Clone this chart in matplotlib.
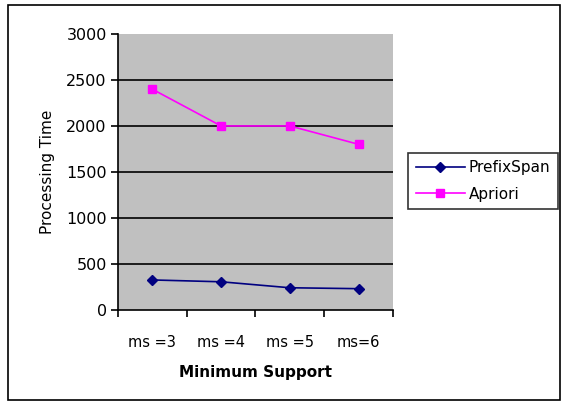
import matplotlib
matplotlib.use("Agg")
import matplotlib.pyplot as plt
from matplotlib.patches import Rectangle

categories = ["ms =3", "ms =4", "ms =5", "ms=6"]
prefixspan = [325, 305, 240, 230]
apriori = [2400, 2000, 2000, 1800]
y_ticks = [0, 500, 1000, 1500, 2000, 2500, 3000]

plt.rcParams["font.family"] = ["DejaVu Sans"]

fig = plt.figure(figsize=(5.64, 4.05), dpi=100)
ax = fig.add_axes([0.209, 0.235, 0.488, 0.681])

# outer chart border
fig.patches.append(Rectangle((0.014, 0.012), 0.979, 0.975, transform=fig.transFigure,
                             fill=False, edgecolor="black", linewidth=1.2))

ax.set_facecolor("#c0c0c0")
x = list(range(len(categories)))
ax.plot(x, prefixspan, color="#000080", marker="D", markersize=5, linewidth=1.2, label="PrefixSpan")
ax.plot(x, apriori, color="#ff00ff", marker="s", markersize=6, linewidth=1.2, label="Apriori")

ax.set_xlim(-0.5, len(categories) - 0.5)
ax.set_ylim(0, 3000)
ax.set_yticks(y_ticks)
for yv in y_ticks[1:-1]:
    ax.axhline(yv, color="black", linewidth=1.2, zorder=1)

ax.set_xticks([i - 0.5 for i in range(len(categories) + 1)])
ax.set_xticklabels([])
ax.set_xticks(x, minor=True)
ax.set_xticklabels(categories, minor=True)
ax.tick_params(axis="x", which="minor", length=0, pad=18, labelsize=10.5)
ax.tick_params(axis="x", which="major", length=5, width=1.2, direction="out")
ax.tick_params(axis="y", length=5, width=1.2, direction="out", labelsize=11.5, pad=3)

for side in ["top", "right"]:
    ax.spines[side].set_visible(False)
ax.spines["left"].set_linewidth(1.2)
ax.spines["bottom"].set_linewidth(1.2)

ax.set_xlabel("Minimum Support", fontsize=11, fontweight="bold", labelpad=11)
ax.set_ylabel("Processing Time", fontsize=11, labelpad=8)

leg = ax.legend(loc="center left", bbox_to_anchor=(1.055, 0.467), frameon=True, fancybox=False,
                edgecolor="black", fontsize=11, handlelength=3.2, borderpad=0.5,
                labelspacing=0.75, handletextpad=0.25, borderaxespad=0)
leg.get_frame().set_linewidth(1.2)

fig.savefig("out.png", dpi=100)
